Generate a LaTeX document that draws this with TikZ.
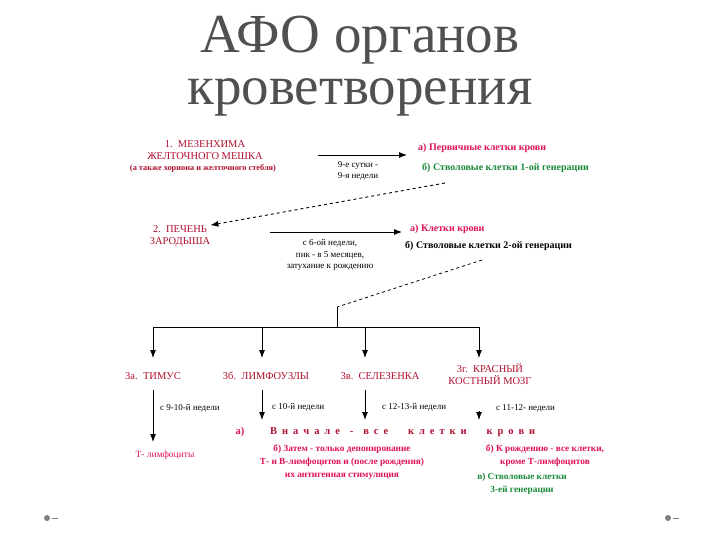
\documentclass[tikz,border=0pt]{standalone}
\usepackage{fontspec}
\usetikzlibrary{arrows.meta}
\setmainfont{Liberation Serif}
\definecolor{dred}{HTML}{B01030}
\definecolor{pnk}{HTML}{E0105A}
\definecolor{grn}{HTML}{1A8A3A}
\definecolor{ttl}{HTML}{505050}
\begin{document}
\begin{tikzpicture}[x=1pt,y=-1pt,
  t/.style={inner sep=0pt,font=\fontsize{10}{11}\selectfont\bfseries},
  rd/.style={t,text=dred,font=\fontsize{10.5}{12}\selectfont},
  pk/.style={t,text=pnk},
  gr/.style={t,text=grn},
  sm/.style={t,font=\fontsize{9}{11.5}\selectfont},
  arr/.style={-{Latex[length=8pt,width=6pt]},line width=0.9pt},
  darr/.style={arr,dashed},
  ttlf/.style={inner sep=0pt,text=ttl,font=\fontsize{55}{57}\selectfont}]
\useasboundingbox (0,0) rectangle (720,540);
\fill[white] (0,0) rectangle (720,540);
\node[ttlf] (t1) at (360,40) {АФО органов};
\node[ttlf] (t2) at (360,97) {кроветворения};
% row 1
\node[rd,align=center] (m1) at (205,150) {1.\ \ МЕЗЕНХИМА\\ЖЕЛТОЧНОГО МЕШКА};
\node[t,text=dred,font=\fontsize{8.3}{9}\selectfont\bfseries] (m1b) at (203,168) {(а также хориона и желточного стебля)};
\coordinate (a1s) at (318,155); \coordinate (a1e) at (407,155);
\draw[arr] (a1s) -- (a1e);
\node[sm,align=center] (l1) at (358,171) {9-е сутки -\\9-я недели};
\node[pk,anchor=west] (p1) at (418,148) {а) Первичные клетки крови};
\node[gr,anchor=west] (s1) at (422,168) {б) Стволовые клетки 1-ой генерации};
\coordinate (d1) at (445,183);
% row 2
\node[rd,align=center] (m2) at (180,236) {2.\ \ ПЕЧЕНЬ\\ЗАРОДЫША};
\draw[darr] (d1) -- (m2.north east);
\coordinate (a2s) at (270,232); \coordinate (a2e) at (402,232);
\draw[arr] (a2s) -- (a2e);
\node[sm,align=center] (l2) at (330,255) {с 6-ой недели,\\пик - в 5 месяцев,\\затухание к рождению};
\node[pk,anchor=west] (p2) at (410,229) {а) Клетки крови};
\node[t,anchor=west] (s2) at (405,246) {б) Стволовые клетки 2-ой генерации};
% tree
\coordinate (d2) at (482,260); \coordinate (j) at (337,307); \coordinate (h) at (337,327);
\draw[dashed,line width=0.8pt] (d2) -- (j);
\draw[line width=0.9pt] (j) -- (h) (153,327) -- (479,327);
\node[rd] (o1) at (153,376) {3а.\ \ ТИМУС};
\node[rd] (o2) at (266,376) {3б.\ \ ЛИМФОУЗЛЫ};
\node[rd] (o3) at (380,376) {3в.\ \ СЕЛЕЗЕНКА};
\node[rd,align=center] (o4) at (490,374) {3г.\ \ КРАСНЫЙ\\КОСТНЫЙ МОЗГ};
\foreach \x/\n in {153/o1,262/o2,365/o3,479/o4}{
  \coordinate (top\n) at (\x,327); \coordinate (end\n) at (\x,358);
  \draw[arr] (top\n) -- (end\n);}
\coordinate (b1s) at (153,390); \coordinate (b1e) at (153,442);
\draw[arr] (b1s) -- (b1e);
\coordinate (b2s) at (262,390); \coordinate (b2e) at (262,420);
\draw[arr] (b2s) -- (b2e);
\coordinate (b3s) at (365,390); \coordinate (b3e) at (365,420);
\draw[arr] (b3s) -- (b3e);
\coordinate (b4s) at (479,411); \coordinate (b4e) at (479,420);
\draw[arr] (b4s) -- (b4e);
\node[sm,anchor=west] (w1) at (160,408) {с 9-10-й недели};
\node[sm,anchor=west] (w2) at (272,407) {с 10-й недели};
\node[sm,anchor=west] (w3) at (382,407) {с 12-13-й недели};
\node[sm,anchor=west] (w4) at (496,408) {с 11-12- недели};
\node[pk,font=\fontsize{9.5}{10}\selectfont] (tl) at (165,455) {Т- лимфоциты};
\node[pk,font=\fontsize{10.5}{12}\selectfont\bfseries] (va) at (240,432) {а)};
\node[t,text=dred,anchor=west,font=\fontsize{10.5}{12}\selectfont\bfseries] (vs) at (270,432) {\makebox[265pt][s]{В н а ч а л е \ - \ в с е \ \ \ к л е т к и \ \ \ к р о в и}};
\node[pk,align=center,font=\fontsize{9.3}{13}\selectfont\bfseries] (vb) at (342,462) {б) Затем - только депонирование\\Т- и В-лимфоцитов и (после рождения)\\их антигенная стимуляция};
\node[pk,align=center,font=\fontsize{9.3}{13}\selectfont\bfseries] (rb) at (545,456) {б) К рождению - все клетки,\\кроме Т-лимфоцитов};
\node[gr,align=center,font=\fontsize{9.3}{13}\selectfont\bfseries] (rv) at (522,484) {в) Стволовые клетки\\3-ей генерации};
% slide bullets
\fill[gray] (47,518) circle (3); \draw[gray,line width=1pt] (52,518) -- (58,518);
\fill[gray] (668,518) circle (3); \draw[gray,line width=1pt] (673,518) -- (679,518);
\end{tikzpicture}
\end{document}
